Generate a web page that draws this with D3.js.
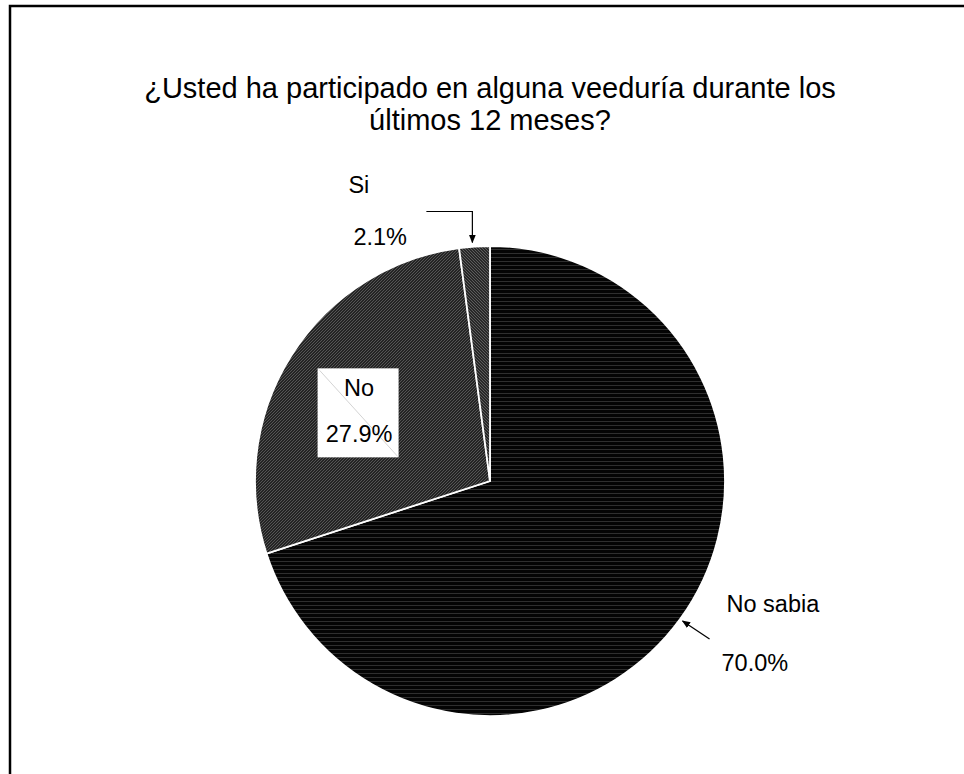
<!DOCTYPE html>
<html>
<head>
<meta charset="utf-8">
<script src="https://cdn.jsdelivr.net/npm/d3@7"></script>
<style>
  html, body { margin: 0; padding: 0; background: #fff; }
  svg { display: block; }
  text { font-family: "Liberation Sans", Arial, sans-serif; fill: #000; }
</style>
</head>
<body>
<svg id="chart" width="964" height="774"></svg>
<script>
// ---- data ----
const titleLines = ["¿Usted ha participado en alguna veeduría durante los", "últimos 12 meses?"];
const categories = ["No sabia", "No", "Si"];
const values = [70.0, 27.9, 2.1];
const valueLabels = ["70.0%", "27.9%", "2.1%"];

// ---- layout ----
const cx = 490, cy = 481, R = 235;
const labelSize = 23.5;

const svg = d3.select("#chart");
const defs = svg.append("defs");

// patterns approximating the original textures
const pNoSabia = defs.append("pattern").attr("id", "pNoSabia")
  .attr("patternUnits", "userSpaceOnUse").attr("width", 4).attr("height", 4);
pNoSabia.append("rect").attr("width", 4).attr("height", 4).attr("fill", "#040404");
pNoSabia.append("rect").attr("y", 0).attr("width", 4).attr("height", 1).attr("fill", "#2e2e2e");

const pNo = defs.append("pattern").attr("id", "pNo")
  .attr("patternUnits", "userSpaceOnUse").attr("width", 3).attr("height", 3);
pNo.append("rect").attr("width", 3).attr("height", 3).attr("fill", "#242424");
pNo.append("path").attr("d", "M0,3 L3,0").attr("stroke", "#555").attr("stroke-width", 1);

const pSi = defs.append("pattern").attr("id", "pSi")
  .attr("patternUnits", "userSpaceOnUse").attr("width", 3).attr("height", 3);
pSi.append("rect").attr("width", 3).attr("height", 3).attr("fill", "#282828");
pSi.append("path").attr("d", "M0,0 L3,3").attr("stroke", "#5c5c5c").attr("stroke-width", 1);

const fills = d3.scaleOrdinal().domain(categories).range(["url(#pNoSabia)", "url(#pNo)", "url(#pSi)"]);

defs.append("marker").attr("id", "arrow")
  .attr("viewBox", "0 0 10 10").attr("refX", 9).attr("refY", 5)
  .attr("markerWidth", 7).attr("markerHeight", 7).attr("orient", "auto")
  .append("path").attr("d", "M0,1 L10,5 L0,9 Z").attr("fill", "#000");

// frame (extends beyond viewport on right/bottom)
svg.append("rect").attr("x", 10).attr("y", 6).attr("width", 1000).attr("height", 900)
  .attr("fill", "none").attr("stroke", "#000").attr("stroke-width", 2.5);

// title
const title = svg.append("text").attr("text-anchor", "middle").attr("font-size", 29);
titleLines.forEach((t, i) => {
  title.append("tspan").attr("x", cx).attr("y", 98 + i * 32).text(t);
});

// pie
const data = categories.map((c, i) => ({ cat: c, value: values[i], label: valueLabels[i] }));
const pie = d3.pie().value(d => d.value).sort(null);
const arc = d3.arc().innerRadius(0).outerRadius(R);
const arcs = pie(data);

const g = svg.append("g").attr("transform", `translate(${cx},${cy})`);
g.selectAll("path.slice").data(arcs).join("path")
  .attr("class", "slice")
  .attr("d", arc)
  .attr("fill", d => fills(d.data.cat))
  .attr("stroke", "#fff").attr("stroke-width", 1.8).attr("stroke-linejoin", "miter");

function onCircle(angle, r) { return [cx + r * Math.sin(angle), cy - r * Math.cos(angle)]; }

// Si label with bent arrow
const si = arcs.find(a => a.data.cat === "Si");
const siMid = (si.startAngle + si.endAngle) / 2;
const siTip = onCircle(siMid, R + 2);
svg.append("path")
  .attr("d", `M${siTip[0] - 48},${siTip[1] - 33} H${siTip[0] - 2} V${siTip[1] - 2}`)
  .attr("fill", "none").attr("stroke", "#000").attr("stroke-width", 1.2)
  .attr("marker-end", "url(#arrow)");
svg.append("text").attr("x", siTip[0] - 126).attr("y", siTip[1] - 52).attr("font-size", labelSize)
  .attr("text-anchor", "start").text(si.data.cat);
svg.append("text").attr("x", siTip[0] - 121).attr("y", siTip[1]).attr("font-size", labelSize)
  .attr("text-anchor", "start").text(si.data.label);

// No label in white box
const no = arcs.find(a => a.data.cat === "No");
const noC = arc.centroid(no);
const bx = cx + noC[0] - 73, by = cy + noC[1] - 50;
const boxW = 81, boxH = 89;
svg.append("rect").attr("x", bx).attr("y", by).attr("width", boxW).attr("height", boxH)
  .attr("fill", "#fff");
svg.append("line").attr("x1", bx + 2).attr("y1", by + 2).attr("x2", bx + boxW - 1).attr("y2", by + boxH - 1)
  .attr("stroke", "#c8c8c8").attr("stroke-width", 0.8);
svg.append("text").attr("x", bx + boxW / 2 + 1).attr("y", by + 28).attr("font-size", labelSize)
  .attr("text-anchor", "middle").text(no.data.cat);
svg.append("text").attr("x", bx + boxW / 2 + 1).attr("y", by + 74).attr("font-size", labelSize)
  .attr("text-anchor", "middle").text(no.data.label);

// No sabia label with arrow
const ns = arcs.find(a => a.data.cat === "No sabia");
const nsMid = (ns.startAngle + ns.endAngle) / 2;
const nsTip = onCircle(nsMid, R + 3);
svg.append("line").attr("x1", nsTip[0] + 27).attr("y1", nsTip[1] + 18)
  .attr("x2", nsTip[0]).attr("y2", nsTip[1])
  .attr("stroke", "#000").attr("stroke-width", 1.2).attr("marker-end", "url(#arrow)");
svg.append("text").attr("x", nsTip[0] + 44).attr("y", nsTip[1] - 9).attr("font-size", labelSize)
  .attr("text-anchor", "start").text(ns.data.cat);
svg.append("text").attr("x", nsTip[0] + 39).attr("y", nsTip[1] + 50).attr("font-size", labelSize)
  .attr("text-anchor", "start").text(ns.data.label);
</script>
</body>
</html>
